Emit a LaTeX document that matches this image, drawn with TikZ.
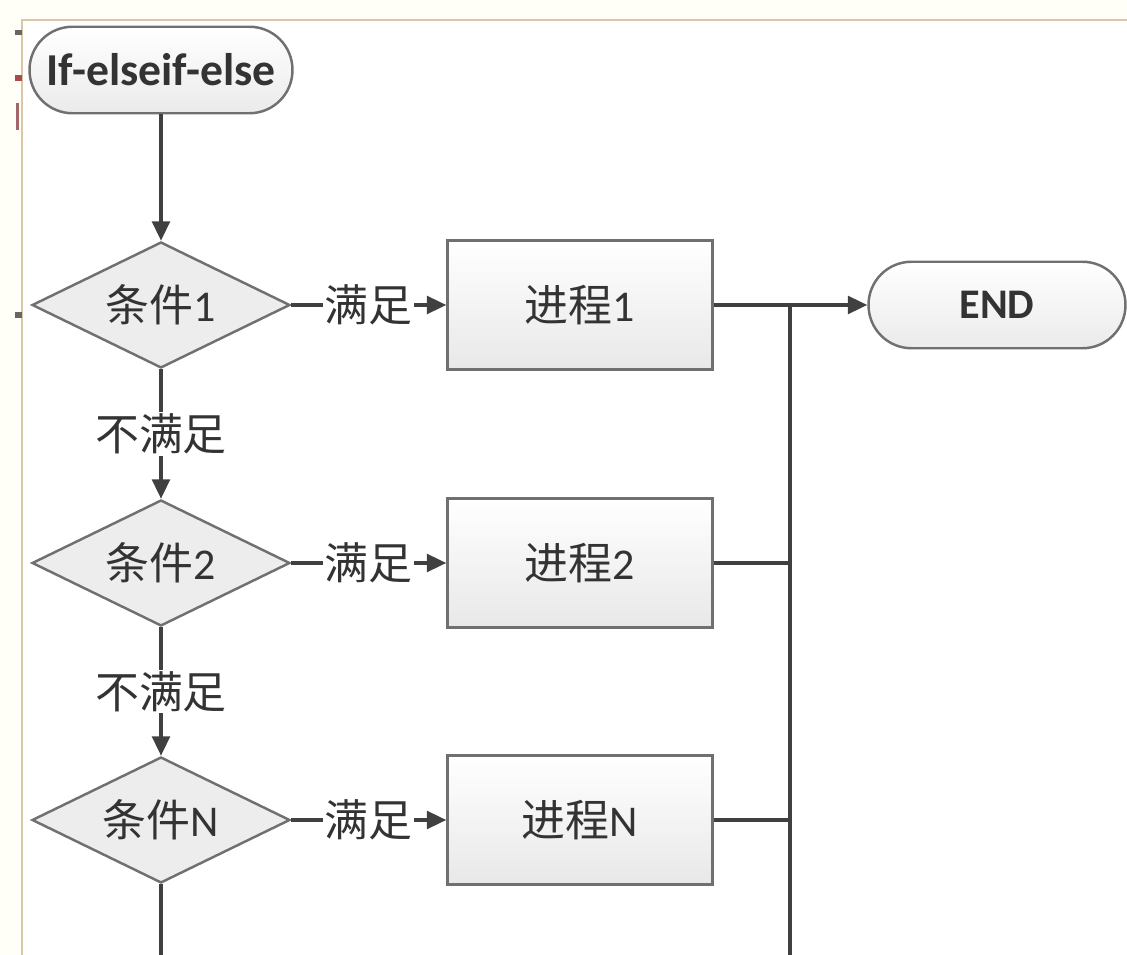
\documentclass[tikz,border=0pt]{standalone}
\usepackage{fontspec}
\setmainfont{Carlito}
\newfontfamily\cjk{Noto Sans CJK SC}
\usetikzlibrary{shapes.geometric,arrows.meta}
\definecolor{linegray}{HTML}{404040}
\definecolor{edgegray}{HTML}{707070}
\definecolor{framecol}{HTML}{D9C7A8}
\tikzset{
  flowline/.style={draw=linegray,line width=2pt},
  flowarrow/.style={flowline,-{Triangle[length=11pt,width=10pt]}},
  terminal/.style={draw=edgegray,line width=1.4pt,rounded corners=0.86cm,
    top color=white,bottom color=black!8,minimum height=1.73cm,
    font=\bfseries,text=black!80},
  procbox/.style={draw=edgegray,line width=1.4pt,top color=white,bottom color=black!9,
    minimum width=5.3cm,minimum height=2.58cm,font=\fontsize{25}{28}\selectfont,text=black!80},
  decision/.style={diamond,shape aspect=2,draw=edgegray,line width=1.4pt,fill=black!7,inner sep=0pt,
    minimum width=5.16cm,minimum height=2.52cm,font=\fontsize{25}{28}\selectfont,text=black!80},
  edgelabel/.style={fill=white,inner sep=1pt,font=\cjk\fontsize{25}{28}\selectfont,text=black!80}
}
\begin{document}
\begin{tikzpicture}[x=0.02cm,y=-0.02cm]
\useasboundingbox (0,0) rectangle (1127,955);
% page frame
\fill[black!2!yellow!3] (0,0) rectangle (1127,20);
\fill[black!2!yellow!3] (0,20) rectangle (22,955);
\draw[framecol,line width=1.2pt] (22,955) -- (22,20) -- (1127,20);
\fill[black!60] (15,30) rectangle (22,35);
\fill[red!50!black!70] (15,75) rectangle (22,81);
\fill[red!40!black!60] (16,103) rectangle (19,130);
\fill[black!60] (15,312) rectangle (22,318);
% nodes
\node[terminal,minimum width=5.26cm,font=\fontsize{26}{30}\selectfont\bfseries] (start) at (161,70) {If-elseif-else};
\node[decision] (c1) at (161,305) {{\cjk 条件}1};
\node[decision] (c2) at (161,563) {{\cjk 条件}2};
\node[decision] (cN) at (161,820) {{\cjk 条件}N};
\node[procbox] (p1) at (580,305) {{\cjk 进程}1};
\node[procbox] (p2) at (580,563) {{\cjk 进程}2};
\node[procbox] (pN) at (580,820) {{\cjk 进程}N};
\node[terminal,minimum width=5.14cm,font=\fontsize{24}{27}\selectfont\bfseries] (end) at (997,305) {END};
\coordinate (j1) at (790,305);
\coordinate (busend) at (790,955);
\coordinate (cNend) at (161,955);
% connectors
\draw[flowarrow] (start) -- (c1);
\draw[flowarrow] (c1) -- node[edgelabel] {不满足} (c2);
\draw[flowarrow] (c2) -- node[edgelabel] {不满足} (cN);
\draw[flowline] (cN) -- (cNend);
\draw[flowarrow] (c1) -- node[edgelabel] {满足} (p1);
\draw[flowarrow] (c2) -- node[edgelabel] {满足} (p2);
\draw[flowarrow] (cN) -- node[edgelabel] {满足} (pN);
\draw[flowarrow] (p1) -- (end);
\draw[flowline] (j1) -- (busend);
\draw[flowline] (p2.east) -- (p2.east -| j1);
\draw[flowline] (pN.east) -- (pN.east -| j1);
\end{tikzpicture}
\end{document}
